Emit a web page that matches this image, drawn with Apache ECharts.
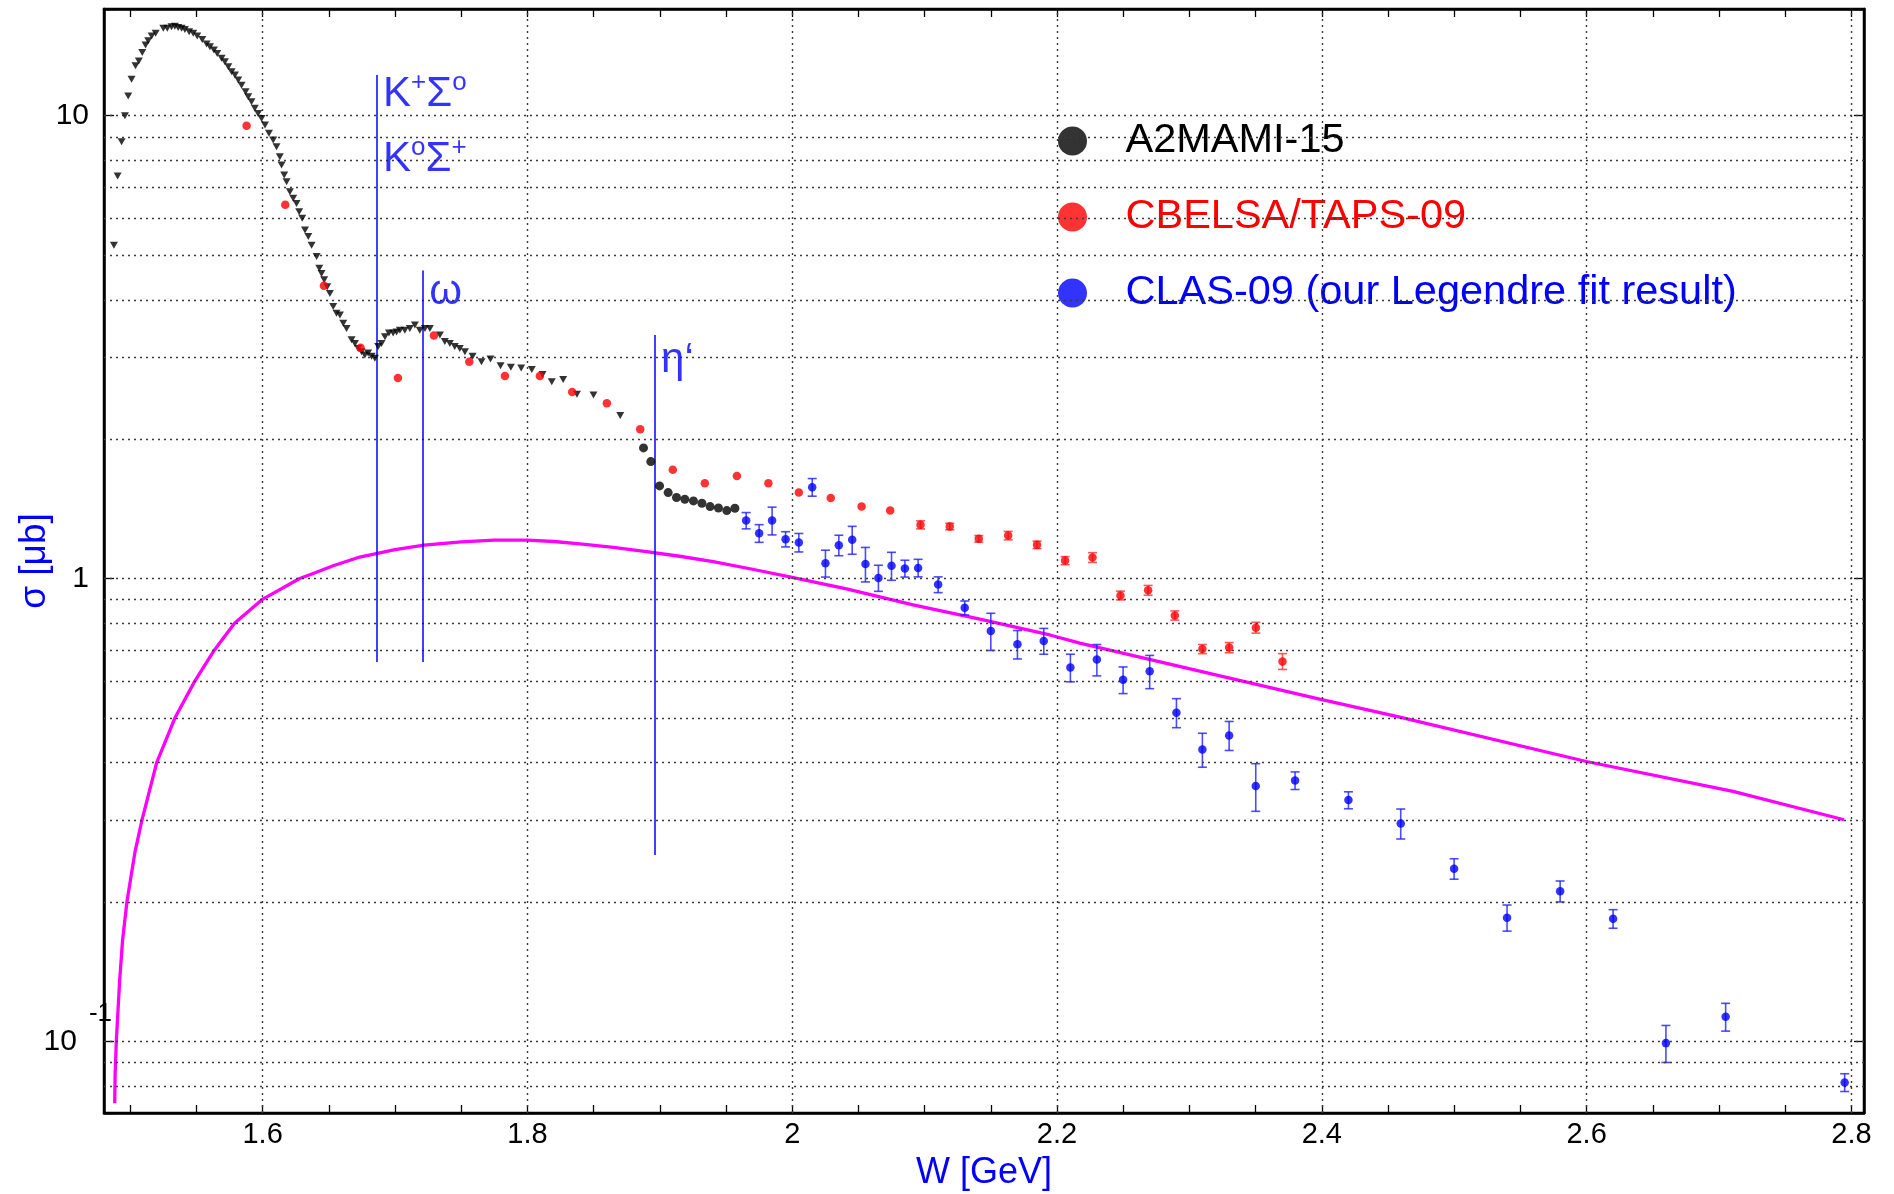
<!DOCTYPE html>
<html><head><meta charset="utf-8">
<script src="https://cdn.jsdelivr.net/npm/echarts@6/dist/echarts.min.js"></script>
<style>html,body{margin:0;padding:0;background:#fff}#c{width:1894px;height:1194px}</style>
</head><body><div id="c"></div>
<script>
const FONT = "'Liberation Sans', Arial, Helvetica, sans-serif";

// ---- axes ----
const xRange = [1.4802, 2.8095];
const yRange = [0.07, 17];
const xTickLabels = [1.6, 1.8, 2.0, 2.2, 2.4, 2.6, 2.8];
const xTickMarks = [1.5,1.55,1.6,1.65,1.7,1.75,1.8,1.85,1.9,1.95,2,2.05,2.1,2.15,2.2,2.25,2.3,2.35,2.4,2.45,2.5,2.55,2.6,2.65,2.7,2.75,2.8];
const xGrid = [1.6, 1.8, 2.0, 2.2, 2.4, 2.6, 2.8];
const yGrid = [0.08,0.09,0.1,0.2,0.3,0.4,0.5,0.6,0.7,0.8,0.9,1,2,3,4,5,6,7,8,9,10];

// ---- data: [W (GeV), sigma (μb)] ----
const a2mamiTriangles = [[1.4877,5.25],[1.4905,7.41],[1.4935,8.78],[1.4960,10.0],[1.4985,11.03],[1.5010,11.98],[1.5040,12.82],[1.5065,13.12],[1.5091,13.70],[1.5116,14.21],[1.5136,14.52],[1.5162,14.86],[1.5192,15.06],[1.5250,15.44],[1.5280,15.44],[1.5312,15.56],[1.5337,15.61],[1.5362,15.51],[1.5388,15.44],[1.5413,15.36],[1.5445,15.18],[1.5476,15.06],[1.5506,14.86],[1.5544,14.61],[1.5577,14.28],[1.5602,14.09],[1.5632,13.86],[1.5657,13.63],[1.5690,13.30],[1.5715,13.08],[1.5741,12.76],[1.5766,12.44],[1.5791,12.24],[1.5816,11.94],[1.5841,11.64],[1.5871,11.26],[1.5891,10.99],[1.5916,10.72],[1.5941,10.37],[1.5966,10.11],[1.5992,9.86],[1.6018,9.54],[1.6048,9.16],[1.6080,8.86],[1.6105,8.57],[1.6130,8.15],[1.6143,7.82],[1.6163,7.44],[1.6181,7.20],[1.6206,6.85],[1.6231,6.63],[1.6256,6.46],[1.6276,6.20],[1.6299,6.00],[1.6320,5.66],[1.6345,5.48],[1.6370,5.25],[1.6408,4.96],[1.6428,4.68],[1.6445,4.56],[1.6465,4.42],[1.6488,4.27],[1.6508,4.13],[1.6533,3.87],[1.6558,3.74],[1.6584,3.71],[1.6609,3.56],[1.6634,3.47],[1.6672,3.28],[1.6697,3.22],[1.6722,3.14],[1.6747,3.09],[1.6772,3.04],[1.6797,3.07],[1.6823,3.02],[1.6848,2.99],[1.6873,3.17],[1.6898,3.22],[1.6924,3.33],[1.6954,3.39],[1.6986,3.39],[1.7012,3.41],[1.7037,3.44],[1.7074,3.44],[1.7112,3.47],[1.7150,3.53],[1.7187,3.44],[1.7226,3.47],[1.7263,3.47],[1.7339,3.36],[1.7376,3.25],[1.7414,3.22],[1.7451,3.17],[1.7489,3.14],[1.7528,3.09],[1.7586,3.02],[1.7653,2.94],[1.7721,2.98],[1.7797,2.88],[1.7875,2.86],[1.7953,2.85],[1.8033,2.83],[1.8114,2.76],[1.8184,2.66],[1.8270,2.69],[1.8374,2.50],[1.8499,2.49],[1.8701,2.25]];

const a2mamiCircles = [[1.8877,1.915],[1.8932,1.789],[1.8998,1.585],[1.9063,1.533],[1.9126,1.496],[1.9189,1.483],[1.9254,1.471],[1.9318,1.454],[1.9380,1.430],[1.9443,1.420],[1.9506,1.402],[1.9567,1.418]];

// [W, sigma, error]
const cbelsa = [[1.5879,9.51,0],[1.6171,6.42,0],[1.6463,4.29,0],[1.6740,3.15,0],[1.7022,2.71,0],[1.7294,3.35,0],[1.7561,2.94,0],[1.7830,2.74,0],[1.8094,2.74,0],[1.8338,2.53,0],[1.8600,2.39,0],[1.8852,2.10,0],[1.9098,1.717,0],[1.9340,1.606,0],[1.9582,1.666,0],[1.9820,1.606,0],[2.0050,1.533,0],[2.0291,1.493,0],[2.0524,1.430,0],[2.0740,1.402,0],[2.0969,1.306,0.026],[2.1190,1.295,0.021],[2.1409,1.218,0.020],[2.1631,1.238,0.026],[2.1849,1.182,0.022],[2.2061,1.093,0.022],[2.2268,1.110,0.027],[2.2479,0.919,0.020],[2.2688,0.943,0.023],[2.2890,0.832,0.019],[2.3098,0.704,0.016],[2.3300,0.709,0.018],[2.3502,0.783,0.021],[2.3703,0.662,0.026]];

const clas = [[1.9652,1.334,0.054],[1.9750,1.252,0.055],[1.9848,1.334,0.092],[1.9950,1.216,0.046],[2.0050,1.196,0.055],[2.0151,1.575,0.069],[2.0251,1.079,0.072],[2.0352,1.180,0.060],[2.0453,1.212,0.084],[2.0553,1.075,0.092],[2.0651,1.003,0.065],[2.0750,1.065,0.074],[2.0851,1.051,0.044],[2.0951,1.054,0.046],[2.1102,0.970,0.038],[2.1303,0.864,0.030],[2.1500,0.770,0.071],[2.1701,0.721,0.051],[2.1900,0.733,0.047],[2.2101,0.642,0.044],[2.2301,0.668,0.052],[2.2499,0.604,0.040],[2.2700,0.630,0.052],[2.2902,0.513,0.037],[2.3098,0.427,0.036],[2.3300,0.458,0.033],[2.3501,0.356,0.042],[2.3798,0.366,0.016],[2.4201,0.332,0.014],[2.4596,0.2956,0.022],[2.4999,0.236,0.012],[2.5399,0.185,0.012],[2.5800,0.211,0.011],[2.6200,0.184,0.0085],[2.6599,0.0991,0.0091],[2.7050,0.113,0.0078],[2.7949,0.0815,0.0036]];

const fitCurve = [[1.4883,0.0735],[1.4886,0.0847],[1.4895,0.100],[1.4920,0.135],[1.4942,0.165],[1.4975,0.200],[1.5035,0.2556],[1.5088,0.300],[1.5200,0.400],[1.5338,0.500],[1.5488,0.600],[1.5635,0.700],[1.5788,0.800],[1.5995,0.900],[1.6280,1.000],[1.6382,1.0254],[1.6533,1.0652],[1.6734,1.1127],[1.700,1.155],[1.722,1.180],[1.750,1.200],[1.775,1.210],[1.800,1.210],[1.820,1.202],[1.8397,1.188],[1.865,1.167],[1.8899,1.143],[1.915,1.117],[1.9403,1.088],[1.970,1.047],[2.000,1.006],[2.041,0.950],[2.0913,0.877],[2.1417,0.817],[2.1946,0.755],[2.2172,0.725],[2.3959,0.551],[2.4589,0.5017],[2.5998,0.4023],[2.7106,0.3466],[2.7944,0.3011]];

// thresholds (vertical lines)
const thresholdW = [1.686, 1.721, 1.896];
const thresholdTop = [12.24, 4.63, 3.36];
const thresholdBottom = [0.66, 0.66, 0.2527];
// annotation texts and anchor points
const annotLabels = ['{m|K}{s|+}{m|Σ}{s|o}', '{m|K}{s|o}{m|Σ}{s|+}', '{m|ω}', '{m|η‘}'];
const annotAnchors = [[1.686, 11.11], [1.686, 8.04], [1.721, 4.15], [1.896, 2.96]];

const seriesNames = ['A2MAMI-15', 'CBELSA/TAPS-09', 'CLAS-09 (our Legendre fit result)'];

// ---- chart ----
const chart = echarts.init(document.getElementById('c'), null, {renderer: 'canvas'});

function errSeries(data, color) {
  return {
    type: 'custom', silent: true, z: 4,
    data: data.filter(d => d[2] > 0),
    encode: {x: 0, y: 1},
    renderItem: function (params, api) {
      const x = api.value(0), y = api.value(1), e = api.value(2);
      const p1 = api.coord([x, y + e]), p2 = api.coord([x, y - e]);
      const hw = 4.5;
      const st = {stroke: color, lineWidth: 1.6};
      return {type: 'group', children: [
        {type: 'line', shape: {x1: p1[0], y1: p1[1], x2: p2[0], y2: p2[1]}, style: st},
        {type: 'line', shape: {x1: p1[0] - hw, y1: p1[1], x2: p1[0] + hw, y2: p1[1]}, style: st},
        {type: 'line', shape: {x1: p2[0] - hw, y1: p2[1], x2: p2[0] + hw, y2: p2[1]}, style: st}
      ]};
    }
  };
}

const axisLineStyle = {show: true, onZero: false, lineStyle: {color: '#000', width: 2.5}};
const tickStyle = {show: true, inside: true, length: 8, customValues: xTickMarks, lineStyle: {color: '#000', width: 1.3}};

const option = {
  animation: false,
  backgroundColor: '#fff',
  textStyle: {fontFamily: FONT},
  grid: {left: 104, right: 30, top: 9, bottom: 81, show: true, borderColor: '#000', borderWidth: 2.5, outerBoundsMode: 'none'},
  legend: {
    orient: 'vertical', left: 1053, top: 115, padding: 5,
    itemWidth: 96, itemHeight: 29, itemGap: 34, icon: 'circle', selectedMode: false,
    textStyle: {fontSize: 41.5, fontFamily: FONT},
    data: [
      {name: seriesNames[0], textStyle: {color: '#000000'}},
      {name: seriesNames[1], textStyle: {color: '#ff0000'}},
      {name: seriesNames[2], textStyle: {color: '#0000ff'}}
    ]
  },
  xAxis: [
    {
      type: 'value', min: xRange[0], max: xRange[1], position: 'bottom',
      axisLine: axisLineStyle, axisTick: tickStyle,
      axisLabel: {show: true, customValues: xTickLabels, margin: 7, fontSize: 29, color: '#000', fontFamily: FONT,
        formatter: v => String(+(+v).toFixed(2))},
      splitLine: {show: false},
      name: 'W [GeV]', nameLocation: 'middle', nameGap: 42,
      nameTextStyle: {color: '#0000ff', fontSize: 36, fontFamily: FONT}
    },
    {
      type: 'value', min: xRange[0], max: xRange[1], position: 'top',
      axisLine: axisLineStyle, axisTick: tickStyle, axisLabel: {show: false}, splitLine: {show: false}
    }
  ],
  yAxis: [
    {
      type: 'log', logBase: 10, min: yRange[0], max: yRange[1], position: 'left',
      axisLine: axisLineStyle,
      axisTick: {show: true, inside: true, length: 10, lineStyle: {color: '#000', width: 1.3}},
      splitLine: {show: false},
      axisLabel: {
        show: true, margin: -8, color: '#000', fontSize: 30, fontFamily: FONT,
        formatter: function (v) {
          const e = Math.log10(v), r = Math.round(e);
          if (Math.abs(e - r) > 1e-6) return '';
          if (r === 1) return '{n|10}';
          if (r === 0) return '{n|1}';
          if (r === -1) return '{b|10}{s|-1}';
          return '';
        },
        rich: {
          n: {fontSize: 30, color: '#000', fontFamily: FONT, padding: [0, 23, 0, 0]},
          b: {fontSize: 30, color: '#000', fontFamily: FONT, lineHeight: 80, padding: [0, 12, 0, 0]},
          s: {fontSize: 26, color: '#000', fontFamily: FONT, lineHeight: 26, verticalAlign: 'top'}
        }
      },
      name: 'σ [μb]', nameLocation: 'middle', nameGap: 51, nameRotate: 90, nameMoveOverlap: false,
      nameTextStyle: {color: '#0000ff', fontSize: 37, fontFamily: FONT}
    },
    {
      type: 'log', logBase: 10, min: yRange[0], max: yRange[1], position: 'right',
      axisLine: axisLineStyle,
      axisTick: {show: true, inside: true, length: 10, lineStyle: {color: '#000', width: 1.3}},
      axisLabel: {show: false}, splitLine: {show: false}
    }
  ],
  series: [
    {
      type: 'line', name: 'grid', data: [], silent: true, z: 1,
      markLine: {
        silent: true, animation: false, symbol: ['none', 'none'], label: {show: false},
        lineStyle: {color: '#3a3a3a', type: [2, 4], width: 1.4},
        emphasis: {disabled: true},
        data: [].concat(xGrid.map(v => ({xAxis: v})), yGrid.map(v => ({yAxis: v})))
      }
    },
    {
      type: 'line', name: 'thresholds', data: [], silent: true, z: 3,
      markLine: {
        silent: true, animation: false, symbol: ['none', 'none'], label: {show: false},
        lineStyle: {color: '#0000ff', type: 'solid', width: 1.5},
        emphasis: {disabled: true},
        data: thresholdW.map((w, i) => [{coord: [w, thresholdTop[i]]}, {coord: [w, thresholdBottom[i]]}])
      }
    },
    {
      type: 'scatter', name: 'annotations', silent: true, z: 6,
      symbol: 'circle', symbolSize: 1, itemStyle: {color: 'rgba(0,0,0,0)'},
      data: annotAnchors.map((p, i) => ({
        value: p,
        label: {
          show: true, position: 'right', distance: 6, formatter: annotLabels[i],
          rich: {
            m: {fontSize: 42, lineHeight: 50, color: '#0000ff', fontFamily: FONT},
            s: {fontSize: 26, lineHeight: 27, color: '#0000ff', fontFamily: FONT, verticalAlign: 'top'}
          }
        }
      }))
    },
    {
      type: 'line', name: 'fit', data: fitCurve, z: 3, symbol: 'none', smooth: false, silent: true,
      lineStyle: {color: '#ff00ff', width: 3.3, join: 'round'}
    },
    errSeries(cbelsa, 'rgba(255,60,60,0.85)'),
    errSeries(clas, 'rgba(30,30,255,0.8)'),
    {
      type: 'scatter', name: 'A2MAMI-15 (low W)', data: a2mamiTriangles, z: 5,
      symbol: 'triangle', symbolRotate: 180, symbolSize: [8, 7], itemStyle: {color: '#000'}
    },
    {
      type: 'scatter', name: seriesNames[0], data: a2mamiCircles, z: 5,
      symbol: 'circle', symbolSize: 9, itemStyle: {color: '#000'}
    },
    {
      type: 'scatter', name: seriesNames[1], data: cbelsa.map(d => [d[0], d[1]]), z: 5,
      symbol: 'circle', symbolSize: 8.5, itemStyle: {color: '#ff0000'}
    },
    {
      type: 'scatter', name: seriesNames[2], data: clas.map(d => [d[0], d[1]]), z: 5,
      symbol: 'circle', symbolSize: 8.5, itemStyle: {color: '#0000ff'}
    }
  ]
};
chart.setOption(option);
</script>
</body></html>
